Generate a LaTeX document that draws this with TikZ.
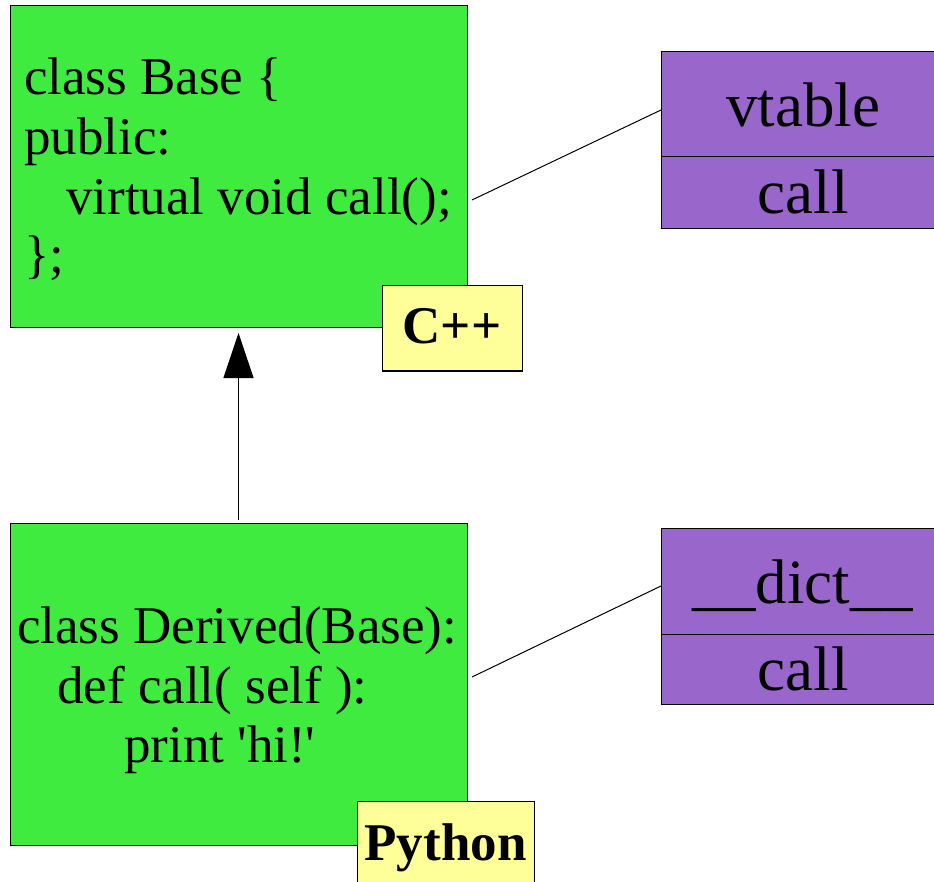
\documentclass[tikz,border=0pt]{standalone}
\usepackage{fontspec}
\setmainfont{Liberation Serif}
\usetikzlibrary{arrows.meta,calc}
\definecolor{boxgreen}{RGB}{64,235,64}
\definecolor{boxpurple}{RGB}{153,102,204}
\definecolor{boxyellow}{RGB}{255,255,153}
\begin{document}
\begin{tikzpicture}[x=1pt,y=-1pt,
  classbox/.style={draw=black,line width=1pt,fill=boxgreen,inner sep=0pt,outer sep=0pt,minimum width=457pt,minimum height=322pt},
  code/.style={anchor=base west,inner sep=0pt,font=\fontsize{53}{60}\selectfont},
  langtag/.style={draw=black,line width=1pt,fill=boxyellow,inner sep=0pt,outer sep=0pt,anchor=north west,font=\fontsize{53}{60}\selectfont\bfseries},
  cell/.style={draw=black,line width=1pt,fill=boxpurple,inner sep=0pt,outer sep=0pt,anchor=north west,minimum width=284pt,font=\fontsize{63}{70}\selectfont},
  link/.style={line width=1pt}]
\useasboundingbox (0,0) rectangle (934,882);
\clip (0,0) rectangle (934,882);
% class boxes
\node[classbox] (base) at (238.5,167) {};
\node[classbox] (derived) at (238.5,684) {};
% code text
\node[code] (b1) at (24,95) {class Base \{};
\node[code] (b2) at (24,155) {public:};
\node[code] (b3) at (66,215) {virtual void call();};
\node[code] (b4) at (24,273) {\};};
\node[code] (d1) at (17,643) {class Derived(Base):};
\node[code] (d2) at (57,703) {def call( self ):};
\node[code] (d3) at (124,762) {print \textquotesingle hi!\textquotesingle};
% language tags
\node[langtag,minimum width=140pt,text height=58pt,text depth=27pt] (cpp) at (382,286) {C++};
\node[langtag,minimum width=177pt,text height=59pt,text depth=30pt] (py) at (357,801) {Python};
% tables
\node[cell,text height=75pt,text depth=30pt] (vt) at (661,52) {vtable};
\node[cell,text height=57pt,text depth=15pt] (vtcall) at (vt.south west) {call};
\node[cell,text height=75pt,text depth=31pt] (dict) at (661,528) {\_\_dict\_\_};
\node[cell,text height=56pt,text depth=14pt] (dcall) at (dict.south west) {call};
% connectors
\draw[link,-{Triangle[length=45pt,width=30pt]},shorten <=3pt,shorten >=5pt] (derived.north) -- (base.south);
\coordinate (basecall) at (472,200);
\coordinate (derivedcall) at (472,677);
\draw[link] (basecall) -- ($(vt.north west)+(0,58)$);
\draw[link] (derivedcall) -- ($(dict.north west)+(0,58)$);
\end{tikzpicture}
\end{document}
